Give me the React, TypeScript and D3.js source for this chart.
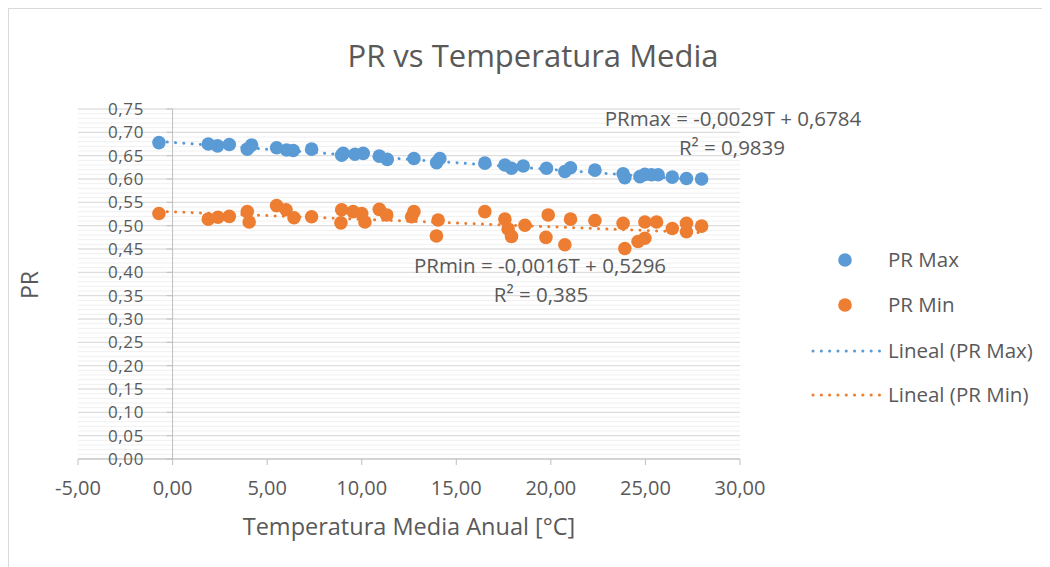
import React from "react";
import * as d3 from "d3";

const maxT = [-0.72, 1.89, 2.38, 3.0, 3.95, 4.18, 5.5, 6.03, 6.38, 7.35, 8.94, 9.02, 9.64, 10.08, 10.93, 11.35, 12.76, 13.96, 14.13, 16.51, 17.57, 17.92, 18.54, 19.77, 20.74, 21.04, 22.33, 23.82, 23.91, 24.71, 24.97, 25.32, 25.67, 26.42, 27.17, 27.97];
const maxPR = [0.678, 0.675, 0.671, 0.674, 0.664, 0.673, 0.667, 0.662, 0.661, 0.664, 0.651, 0.655, 0.653, 0.655, 0.649, 0.642, 0.644, 0.635, 0.644, 0.634, 0.63, 0.623, 0.628, 0.623, 0.616, 0.624, 0.619, 0.611, 0.603, 0.605, 0.61, 0.609, 0.609, 0.604, 0.601, 0.6];

const minT = [-0.72, 1.89, 2.4, 3.0, 4.05, 3.95, 5.5, 6.0, 6.42, 7.35, 8.94, 8.9, 9.55, 10.0, 10.17, 10.93, 11.32, 12.76, 12.64, 14.04, 13.95, 16.51, 17.57, 17.74, 17.92, 18.63, 19.86, 19.74, 20.74, 21.04, 22.33, 23.82, 23.91, 24.61, 24.97, 24.97, 25.59, 26.42, 27.17, 27.17, 27.97];
const minPR = [0.526, 0.514, 0.518, 0.52, 0.508, 0.53, 0.543, 0.534, 0.517, 0.519, 0.534, 0.506, 0.53, 0.526, 0.508, 0.535, 0.523, 0.53, 0.519, 0.512, 0.478, 0.53, 0.514, 0.493, 0.477, 0.501, 0.523, 0.475, 0.459, 0.514, 0.511, 0.505, 0.451, 0.466, 0.473, 0.508, 0.508, 0.494, 0.487, 0.505, 0.499];

const trendMax = [-0.0029, 0.6784];
const trendMin = [-0.0016, 0.5296];

const xTicks = [-5, 0, 5, 10, 15, 20, 25, 30];
const yTicks = [0, 0.05, 0.1, 0.15, 0.2, 0.25, 0.3, 0.35, 0.4, 0.45, 0.5, 0.55, 0.6, 0.65, 0.7, 0.75];

const title = "PR vs Temperatura Media";
const xTitle = "Temperatura Media Anual [°C]";
const yTitle = "PR";
const eqMax = "PRmax = -0,0029T + 0,6784";
const r2Max = "R² = 0,9839";
const eqMin = "PRmin = -0,0016T + 0,5296";
const r2Min = "R² = 0,385";
const legendLabels = ["PR Max", "PR Min", "Lineal (PR Max)", "Lineal (PR Min)"];

const BLUE = "#5B9BD5";
const ORANGE = "#ED7D31";
const TXT = "#595959";
const FONT = "'Open Sans', sans-serif";

const fmt = (v: number, d: number) => v.toFixed(d).replace(".", ",");

export default function App() {
  const x = d3.scaleLinear().domain([-5, 30]).range([78, 740]);
  const y = d3.scaleLinear().domain([0, 0.75]).range([459, 109]);
  const minor = d3.range(0, 0.7501, 0.01);

  const trend = (coef: number[], ts: number[]) => {
    const [a, b] = d3.extent(ts) as [number, number];
    return d3.line<number>().x((t) => x(t)).y((t) => y(coef[0] * t + coef[1]))([a, b]) as string;
  };

  return (
    <svg width={1042} height={559} style={{ display: "block" }}>
      <g transform="translate(-8,-8)" fontFamily={FONT}>
        <rect x={8.5} y={8.5} width={1100} height={700} fill="#fff" stroke="#D9D9D9" />
        {minor.map((v, i) => (
          <line key={"m" + i} x1={x(-5)} x2={x(30)} y1={y(v)} y2={y(v)} stroke="#F0F0F0" strokeWidth={1} />
        ))}
        {yTicks.map((v, i) => (
          <line key={"g" + i} x1={x(-5)} x2={x(30)} y1={y(v)} y2={y(v)} stroke="#D9D9D9" strokeWidth={1} />
        ))}
        {/* axes */}
        <line x1={x(-5)} x2={x(30)} y1={y(0)} y2={y(0)} stroke="#BFBFBF" />
        <line x1={x(0)} x2={x(0)} y1={y(0.75)} y2={y(0)} stroke="#BFBFBF" />
        {xTicks.map((t, i) => (
          <g key={"xt" + i}>
            <line x1={x(t)} x2={x(t)} y1={y(0)} y2={y(0) + 6} stroke="#BFBFBF" />
            <text x={x(t)} y={495} textAnchor="middle" fontSize={20} fill={TXT}>{fmt(t, 2)}</text>
          </g>
        ))}
        {yTicks.map((v, i) => (
          <g key={"yt" + i}>
            <line x1={x(0) - 6} x2={x(0)} y1={y(v)} y2={y(v)} stroke="#BFBFBF" />
            <text x={144} y={y(v) + 6} textAnchor="end" fontSize={17} letterSpacing={0.6} fill={TXT}>{fmt(v, 2)}</text>
          </g>
        ))}
        {/* points */}
        {maxT.map((t, i) => (
          <circle key={"b" + i} cx={x(t)} cy={y(maxPR[i])} r={6.8} fill={BLUE} />
        ))}
        {minT.map((t, i) => (
          <circle key={"o" + i} cx={x(t)} cy={y(minPR[i])} r={6.8} fill={ORANGE} />
        ))}
        {/* trendlines */}
        <path d={trend(trendMax, maxT)} stroke={BLUE} strokeWidth={3} strokeDasharray="0.1 8.2" strokeLinecap="round" fill="none" />
        <path d={trend(trendMin, minT)} stroke={ORANGE} strokeWidth={3} strokeDasharray="0.1 8.2" strokeLinecap="round" fill="none" />
        {/* annotations */}
        <text x={733} y={126} fontSize={20.5} fill={TXT} textAnchor="middle">{eqMax}</text>
        <text x={732} y={155} fontSize={20.5} fill={TXT} textAnchor="middle">{r2Max}</text>
        <text x={540} y={273} fontSize={20.5} fill={TXT} textAnchor="middle">{eqMin}</text>
        <text x={541} y={302} fontSize={20.5} fill={TXT} textAnchor="middle">{r2Min}</text>
        {/* titles */}
        <text x={533} y={67} textAnchor="middle" fontSize={31} fill={TXT}>{title}</text>
        <text x={409} y={535} textAnchor="middle" fontSize={23.5} fill={TXT}>{xTitle}</text>
        <text transform="translate(38,285) rotate(-90)" textAnchor="middle" fontSize={23} fill={TXT}>{yTitle}</text>
        {/* legend */}
        <circle cx={845} cy={260} r={6.8} fill={BLUE} />
        <text x={888} y={267} fontSize={20.5} fill={TXT}>{legendLabels[0]}</text>
        <circle cx={845} cy={305} r={6.8} fill={ORANGE} />
        <text x={888} y={312} fontSize={20.5} fill={TXT}>{legendLabels[1]}</text>
        <line x1={813} x2={880} y1={351} y2={351} stroke={BLUE} strokeWidth={3} strokeDasharray="0.1 8.2" strokeLinecap="round" />
        <text x={888} y={358} fontSize={20.5} fill={TXT}>{legendLabels[2]}</text>
        <line x1={813} x2={880} y1={395} y2={395} stroke={ORANGE} strokeWidth={3} strokeDasharray="0.1 8.2" strokeLinecap="round" />
        <text x={888} y={402} fontSize={20.5} fill={TXT}>{legendLabels[3]}</text>
      </g>
    </svg>
  );
}
